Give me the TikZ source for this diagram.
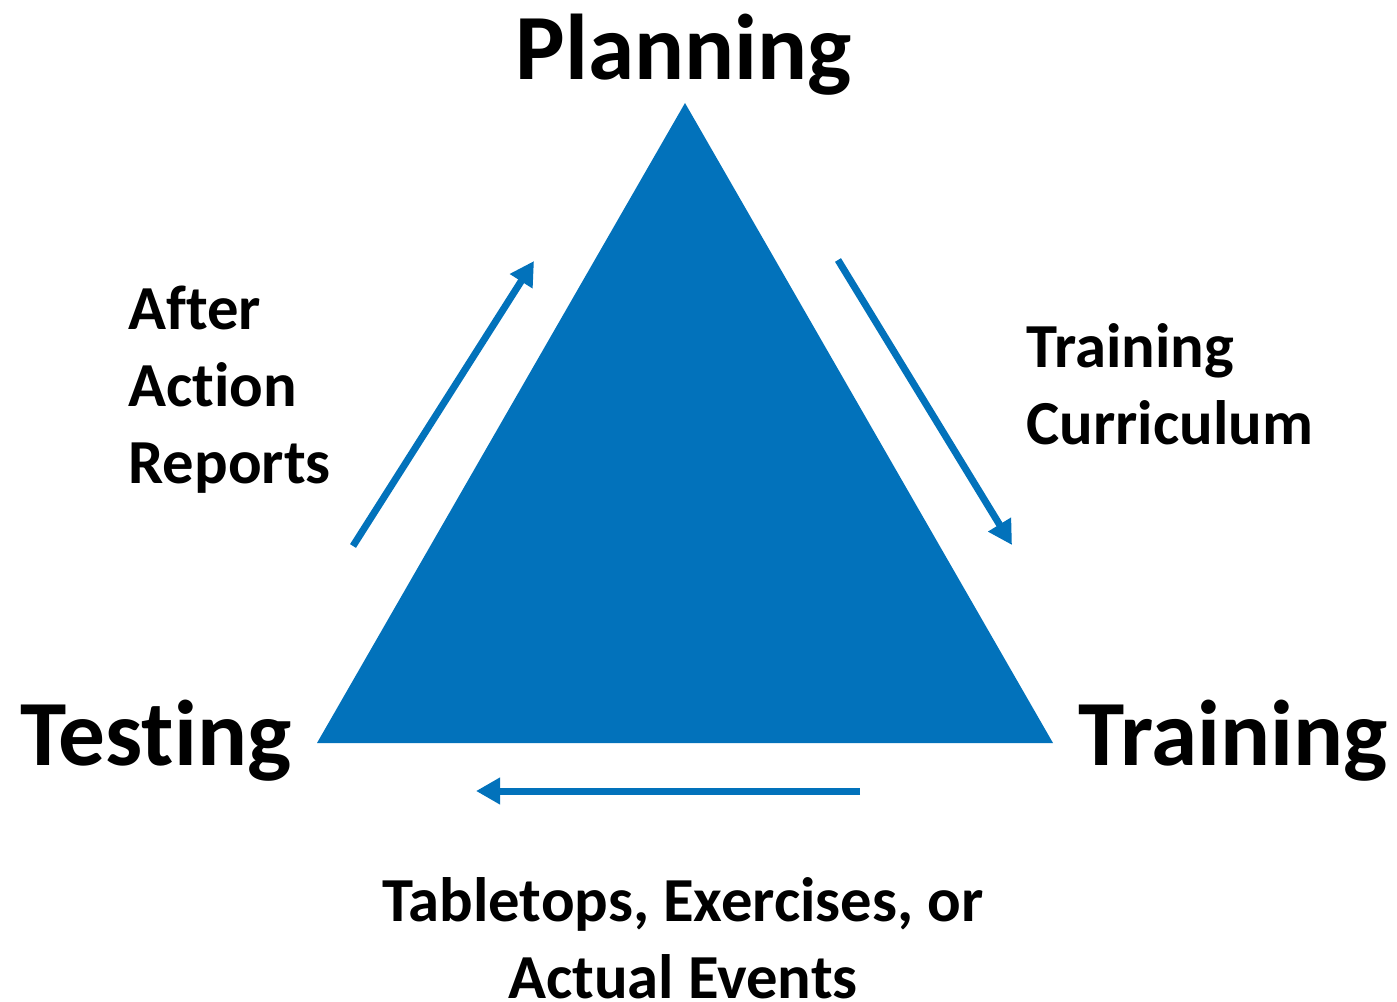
\documentclass[tikz,border=0pt]{standalone}
\usepackage{fontspec}
\setmainfont{Carlito}[Ligatures=NoCommon]
\usetikzlibrary{arrows.meta}

\definecolor{triblue}{RGB}{2,114,187}

\tikzset{every picture/.style={line width=0.75pt}}
\tikzset{
  bigtxt/.style={font=\fontsize{70}{84}\bfseries\selectfont, inner sep=0pt, anchor=base},
  smalltxt/.style={font=\fontsize{47}{57.75}\bfseries\selectfont, inner sep=0pt, align=left},
  cyclearrow/.style={draw=triblue, line width=5.25pt, -{Triangle[length=18pt,width=19pt]}}
}

\begin{document}
\begin{tikzpicture}[x=0.75pt,y=0.75pt,yscale=-1,xscale=1]
\useasboundingbox (0,0) rectangle (1397,1002);

%Shape: Triangle
\coordinate (top) at (685,103);
\coordinate (botleft) at (317,743);
\coordinate (botright) at (1053,743);
\fill [triblue, line join=round] (top) -- (botright) -- (botleft) -- cycle;

%Arrows
\coordinate (aarstart) at (353,546);
\coordinate (aarend) at (534,261);
\draw [cyclearrow] (aarstart) -- (aarend);
\coordinate (currstart) at (838,260);
\coordinate (currend) at (1012,545);
\draw [cyclearrow] (currstart) -- (currend);
\coordinate (exstart) at (860,791);
\coordinate (exend) at (476,791);
\draw [cyclearrow] (exstart) -- (exend);

% Text Node
\node (planning) [bigtxt] at (684,80) {Planning};
% Text Node
\node (testing) [bigtxt] at (156,765) {Testing};
% Text Node
\node (training) [bigtxt] at (1233,765) {Training};
% Text Node (base = last line)
\node (aar) [smalltxt, anchor=base west] at (128,483) {After\\Action\\Reports};
% Text Node
\node (curriculum) [smalltxt, anchor=base west] at (1026,444) {Training\\Curriculum};
% Text Node
\node (exercises) [smalltxt, align=center, anchor=base] at (683,998) {Tabletops, Exercises, or\\Actual Events};

\end{tikzpicture}
\end{document}
